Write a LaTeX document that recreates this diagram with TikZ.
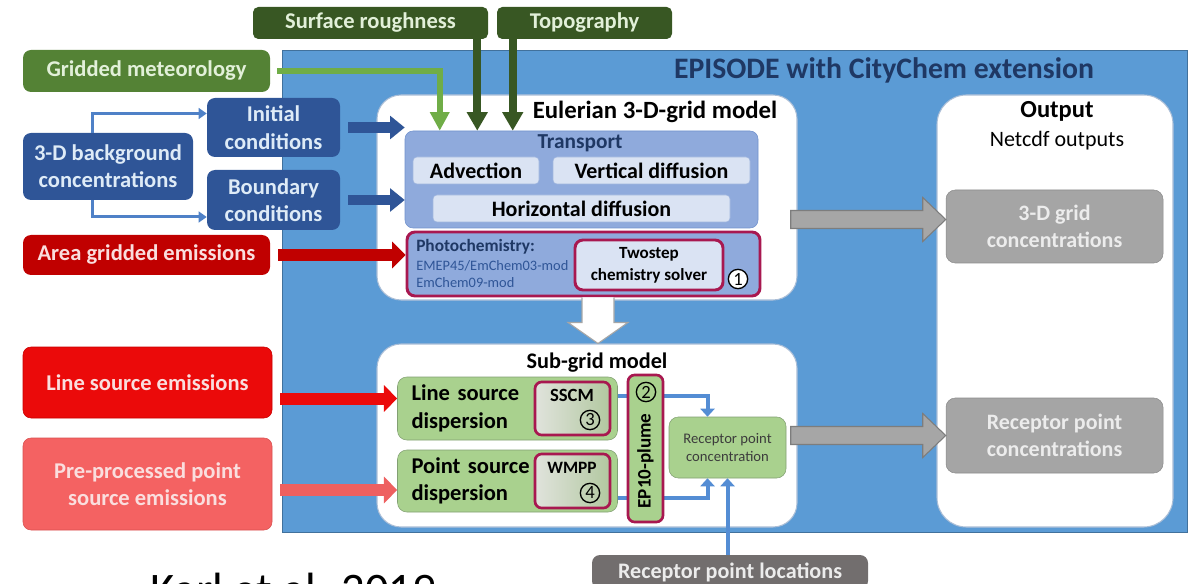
\documentclass[tikz,border=0pt]{standalone}
\usepackage{fontspec}
\setmainfont{Carlito}
\usepackage{tikz}
\usetikzlibrary{arrows.meta,calc}

\definecolor{panelblue}{RGB}{91,155,213}
\definecolor{panelblued}{RGB}{65,113,156}
\definecolor{navy}{RGB}{31,56,100}
\definecolor{dkgreen}{RGB}{56,87,35}
\definecolor{medgreen}{RGB}{84,130,53}
\definecolor{ltgreen}{RGB}{226,240,217}
\definecolor{arrgreen}{RGB}{112,173,71}
\definecolor{dkblue}{RGB}{47,85,151}
\definecolor{ltblue}{RGB}{222,235,247}
\definecolor{connblue}{RGB}{79,129,199}
\definecolor{subblue}{RGB}{84,141,212}
\definecolor{areared}{RGB}{192,0,0}
\definecolor{linered}{RGB}{235,10,10}
\definecolor{lineredd}{RGB}{200,0,0}
\definecolor{pinktext}{RGB}{250,222,222}
\definecolor{ppred}{RGB}{244,98,98}
\definecolor{ppredd}{RGB}{216,80,80}
\definecolor{ppredarr}{RGB}{238,96,96}
\definecolor{transblue}{RGB}{143,170,220}
\definecolor{transd}{RGB}{112,145,205}
\definecolor{innerblue}{RGB}{218,227,243}
\definecolor{innerd}{RGB}{160,182,222}
\definecolor{refblue}{RGB}{47,85,151}
\definecolor{chemred}{RGB}{168,24,80}
\definecolor{boxgrey}{RGB}{165,165,165}
\definecolor{boxgreyd}{RGB}{140,140,140}
\definecolor{greytext}{RGB}{236,236,236}
\definecolor{subgreen}{RGB}{169,209,142}
\definecolor{subgreend}{RGB}{130,160,115}
\definecolor{sscmleft}{RGB}{224,227,220}
\definecolor{sscmright}{RGB}{178,200,160}
\definecolor{rpctext}{RGB}{60,60,60}
\definecolor{locgrey}{RGB}{114,110,110}
\definecolor{contborder}{RGB}{170,190,215}
\definecolor{arrgrey}{RGB}{166,166,166}
\definecolor{arrgreyd}{RGB}{125,125,125}

\begin{document}
\begin{tikzpicture}[x=0.75pt,y=0.75pt,yscale=-1,xscale=1,
  box/.style={rounded corners=6pt, inner sep=0pt, align=center, font=\fontsize{16.9}{20.5}\selectfont\bfseries},
  container/.style={draw=contborder, fill=white, rounded corners=18pt, inner sep=0pt, line width=0.8pt},
  inbox/.style={box, draw=innerd, fill=innerblue, rounded corners=3pt, font=\fontsize{16.5}{20}\selectfont\bfseries},
  greybox/.style={box, draw=boxgreyd, fill=boxgrey, text=greytext, rounded corners=7pt, font=\fontsize{16.5}{20}\selectfont\bfseries},
  dispbox/.style={box, draw=subgreend, fill=subgreen, align=left, text width=144pt, inner xsep=10.5pt, rounded corners=7pt},
  chembox/.style={draw=chemred, line width=2pt, rounded corners=5pt, inner sep=0pt},
  num/.style={circle, draw=black, line width=1pt, inner sep=0pt, minimum size=14.5pt, font=\fontsize{14}{14}\selectfont},
  fatarrow/.style={line width=9pt, -{Triangle[length=10pt,width=19.5pt]}},
  bluefat/.style={line width=8pt, color=dkblue, -{Triangle[length=11pt,width=17pt]}},
  thinconn/.style={line width=2.25pt, color=connblue, -{Triangle[length=6pt,width=8pt]}},
  subconn/.style={line width=3pt, color=subblue, -{Triangle[length=6pt,width=10.5pt]}},
  fatgrey/.style={fill=arrgrey, draw=arrgreyd, line width=0.8pt}
]
\useasboundingbox (0,0) rectangle (1194,584);

%Shape: EPISODE panel
\node[draw=panelblued, fill=panelblue, minimum width=678.75pt, minimum height=361.5pt, inner sep=0pt] (episode) at (734.5,291) {};
\node[font=\fontsize{22.3}{26}\selectfont\bfseries, text=navy] (eptitle) at (884,70) {EPISODE with CityChem extension};

%Shape: containers
\node[container, minimum width=315pt, minimum height=153.75pt] (eul) at (587,197.5) {};
\node[container, minimum width=177pt, minimum height=324pt, rounded corners=22pt] (out) at (1055,311) {};
\node[container, minimum width=315pt, minimum height=137.25pt] (subg) at (587,435.5) {};

% Inputs
\node[box, fill=dkgreen, text=ltgreen, minimum width=176.25pt, minimum height=24pt, rounded corners=4pt] (surf) at (370.5,23) {Surface roughness};
\node[box, fill=dkgreen, text=ltgreen, minimum width=131.25pt, minimum height=24pt, rounded corners=4pt] (topo) at (584.5,23) {Topography};
\node[box, fill=medgreen, text=ltgreen, minimum width=185.25pt, minimum height=31.5pt] (met) at (146.5,71) {Gridded meteorology};
\node[box, fill=dkblue, text=ltblue, minimum width=127.5pt, minimum height=50.25pt] (bg) at (108,166.5) {3-D background\\concentrations};
\node[box, fill=dkblue, text=ltblue, minimum width=99.75pt, minimum height=44.25pt] (init) at (273.5,127.5) {Initial\\conditions};
\node[box, fill=dkblue, text=ltblue, minimum width=99.75pt, minimum height=45pt] (bound) at (273.5,200) {Boundary\\conditions};
\node[box, fill=areared, text=pinktext, minimum width=185.25pt, minimum height=30pt] (area) at (146.5,255) {Area gridded emissions};
\node[box, fill=linered, draw=lineredd, text=pinktext, minimum width=186.75pt, minimum height=53.25pt] (linesrc) at (147.5,382.5) {Line source emissions};
\node[box, fill=ppred, draw=ppredd, text=pinktext, minimum width=186.75pt, minimum height=69pt] (ppsrc) at (147.5,484) {Pre-processed point\\source emissions};

% Eulerian 3-D-grid model
\node[font=\fontsize{18.6}{22}\selectfont\bfseries] (eultitle) at (655,112) {Eulerian 3-D-grid model};
\node[draw=transd, fill=transblue, rounded corners=6pt, inner sep=0pt, minimum width=264.75pt, minimum height=72.75pt] (trans) at (581.5,179.5) {};
\node[font=\fontsize{16}{19}\selectfont\bfseries, text=navy] (translbl) at (580,143) {Transport};
\node[inbox, minimum width=94.5pt, minimum height=20.25pt] (adv) at (476,170.5) {Advection};
\node[inbox, minimum width=147.75pt, minimum height=20.25pt] (vert) at (651.5,170.5) {Vertical diffusion};
\node[inbox, minimum width=222.75pt, minimum height=20.25pt] (horiz) at (581.5,208.5) {Horizontal diffusion};
\node[chembox, line width=2.2pt, fill=transblue, rounded corners=6pt, minimum width=264.75pt, minimum height=48pt] (photo) at (583.5,264) {};
\node[anchor=west, inner sep=0pt, font=\fontsize{13}{15}\selectfont\bfseries, text=navy] (photohd) at (416,247) {Photochemistry:};
\node[anchor=west, inner sep=0pt, font=\fontsize{10.8}{13}\selectfont, text=refblue] (photoa) at (416,266) {EMEP45/EmChem03-mod};
\node[anchor=west, inner sep=0pt, font=\fontsize{10.8}{13}\selectfont, text=refblue] (photob) at (416,283) {EmChem09-mod};
\node[box, chembox, line width=2.2pt, fill=innerblue, rounded corners=6pt, font=\fontsize{12.8}{16.5}\selectfont\bfseries, minimum width=111pt, minimum height=37.5pt] (twostep) at (649,265) {Twostep\\chemistry solver};
\node[num, fill=white] (n1) at (738,279) {1};

% Output
\node[font=\fontsize{18.4}{22}\selectfont\bfseries] (outhd) at (1057,111) {Output};
\node[font=\fontsize{16.5}{20}\selectfont] (outsub) at (1057,141) {Netcdf outputs};
\node[greybox, minimum width=162.75pt, minimum height=54.75pt] (out3d) at (1054.5,226.5) {3-D grid\\concentrations};
\node[greybox, minimum width=162.75pt, minimum height=56.25pt] (outrp) at (1054.5,435.5) {Receptor point\\concentrations};

% Sub-grid model
\node[font=\fontsize{16.7}{20}\selectfont\bfseries] (subgtitle) at (597,363) {Sub-grid model};
\node[dispbox, minimum height=47.25pt] (linedisp) at (507.5,408.5) {Line source\\dispersion};
\node[dispbox, minimum height=46.5pt] (pointdisp) at (507.5,481) {Point source\\dispersion};
\node[chembox, left color=sscmleft, right color=sscmright, minimum width=56.25pt, minimum height=39.75pt] (sscm) at (572.5,408.5) {};
\node[font=\fontsize{14}{16}\selectfont\bfseries] (sscmlbl) at (572,395) {SSCM};
\node[num] (n3) at (590,420) {3};
\node[chembox, left color=sscmleft, right color=sscmright, minimum width=56.25pt, minimum height=40.5pt] (wmpp) at (572.5,481) {};
\node[font=\fontsize{13}{16}\selectfont\bfseries] (wmpplbl) at (572,468) {WMPP};
\node[num] (n4) at (590,493) {4};
\node[box, draw=subgreend, fill=subgreen, rounded corners=7pt, text=rpctext, font=\fontsize{11}{14}\selectfont, minimum width=87.75pt, minimum height=45.75pt] (rpc) at (727.5,447.5) {Receptor point\\concentration};
\node[box, fill=locgrey, text=greytext, font=\fontsize{16.6}{20}\selectfont\bfseries, minimum width=207pt, minimum height=25.5pt] (rpl) at (730,572) {Receptor point locations};

% connectors in the sub-grid model
\draw[subconn] ($(linedisp.east)+(0,-13)$) -| ($(rpc.north)+(-20,0)$);
\draw[subconn] ($(pointdisp.east)+(0,17)$) -| ($(rpc.south)+(-20,0)$);
\draw[subconn] (rpc.south |- rpl.north) -- (rpc.south);

\node[chembox, fill=subgreen, minimum width=26.25pt, minimum height=110.25pt] (ep10) at (645.5,448.5) {};
\node[rotate=90, font=\fontsize{14.3}{16}\selectfont\bfseries] (ep10lbl) at (645.5,461) {EP10-plume};
\node[num] (n2) at (646,392) {2};

% green arrows
\coordinate (sr) at ($(surf.south east)+(-11,0)$);
\coordinate (tp) at ($(topo.south west)+(16,0)$);
\draw[line width=4.5pt, color=arrgreen, -{Triangle[length=14pt,width=14pt]}] ($(met.east)+(7,0)$) -| ($(trans.north west)+(35,0)$);
\draw[line width=6pt, color=dkgreen, -{Triangle[length=14pt,width=15pt]}] (sr) -- (sr |- trans.north);
\draw[line width=6pt, color=dkgreen, -{Triangle[length=14pt,width=15pt]}] (tp) -- (tp |- trans.north);

% blue arrows
\draw[thinconn] ($(bg.north)+(-16,0)$) |- ($(init.west)+(0,-14)$);
\draw[thinconn] ($(bg.south)+(-16,0)$) |- ($(bound.west)+(0,17)$);
\draw[bluefat, shorten <=6pt] (init.east) -- (init.east -| trans.west);
\draw[bluefat, shorten <=6pt] (bound.east) -- (bound.east -| trans.west);

% red arrows
\coordinate (lsin) at ($(linedisp.west)+(0,-10)$);
\coordinate (ppin) at ($(pointdisp.west)+(0,9)$);
\draw[fatarrow, color=areared, shorten <=6pt] (area.east) -- (area.east -| photo.west);
\draw[fatarrow, color=linered, shorten <=6pt] (linesrc.east |- lsin) -- (lsin);
\draw[fatarrow, color=ppredarr, shorten <=6pt] (ppsrc.east |- ppin) -- (ppin);

% grey arrows to the output
\coordinate (g1) at ($(out3d.west)+(0,-7)$);
\draw[fatgrey] (g1) -- ++(-23,-22) -- ++(0,13) -- ++(-132,0) -- ++(0,18) -- ++(132,0) -- ++(0,13) -- cycle;
\draw[fatgrey] (outrp.west) -- ++(-23,-22) -- ++(0,13) -- ++(-132,0) -- ++(0,18) -- ++(132,0) -- ++(0,13) -- cycle;

% white arrow Eulerian -> sub-grid
\coordinate (wt) at ($(subg.north)+(11,0)$);
\fill[white] (wt) -- ++(-30,-21) -- ++(14,0) -- ++(0,-25) -- ++(32,0) -- ++(0,25) -- ++(14,0) -- cycle;
\draw[draw=arrgrey, line width=0.8pt] ($(wt)+(-16,-46)$) -- ++(0,25) -- ++(-14,0) -- (wt) -- ++(30,-21) -- ++(-14,0) -- ++(0,-25);

% Text Node
\node[anchor=base west, inner sep=0pt, font=\fontsize{35}{40}\selectfont] (cite) at (150,605) {Karl et al. 2019};
\end{tikzpicture}
\end{document}
